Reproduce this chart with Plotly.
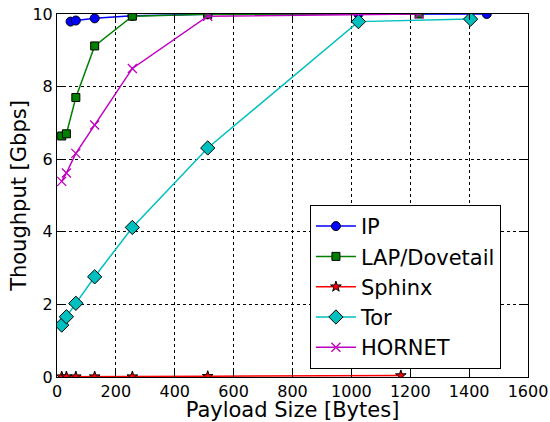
import plotly.graph_objects as go

# Data
ip_x = [46, 64, 128, 256, 512, 1024, 1460]
ip_y = [9.79, 9.82, 9.88, 9.95, 9.99, 10.0, 10.0]

lap_x = [16, 32, 64, 128, 256, 512, 1230]
lap_y = [6.64, 6.70, 7.70, 9.12, 9.94, 9.99, 10.0]

sphinx_x = [16, 32, 64, 128, 256, 512, 1168]
sphinx_y = [0.01, 0.01, 0.01, 0.01, 0.01, 0.02, 0.04]

tor_x = [16, 32, 64, 128, 256, 512, 1024, 1405]
tor_y = [1.43, 1.66, 2.03, 2.76, 4.12, 6.31, 9.79, 9.86]

hornet_x = [16, 32, 64, 128, 256, 512, 1230]
hornet_y = [5.39, 5.62, 6.16, 6.94, 8.50, 9.94, 10.0]

x_ticks = [0, 200, 400, 600, 800, 1000, 1200, 1400, 1600]
y_ticks = [0, 2, 4, 6, 8, 10]

series = [
    ("IP", ip_x, ip_y, "#0000ff", "circle", 9),
    ("LAP/Dovetail", lap_x, lap_y, "#008000", "square", 8),
    ("Sphinx", sphinx_x, sphinx_y, "#ff0000", "star", 8),
    ("Tor", tor_x, tor_y, "#00bfbf", "diamond", 11),
    ("HORNET", hornet_x, hornet_y, "#bf00bf", "x-thin", 9),
]

fig = go.Figure()
for i, (name, xs, ys, col, sym, sz) in enumerate(series):
    if sym == "x-thin":
        marker = dict(symbol=sym, size=sz, color=col, line=dict(color=col, width=1.3))
    else:
        marker = dict(symbol=sym, size=sz, color=col, line=dict(color="black", width=1))
    fig.add_trace(go.Scatter(
        x=xs, y=ys, name=name, mode="lines+markers",
        line=dict(color=col, width=1.5), marker=marker,
        legendgroup=f"g{i}",
    ))

axis_common = dict(
    showline=True, linecolor="black", linewidth=1, mirror="allticks",
    ticks="inside", ticklen=6, tickcolor="black",
    showgrid=True, gridcolor="black", griddash="dot", gridwidth=1,
    zeroline=False, tickfont=dict(size=16, color="black"),
    automargin=False, ticklabeloverflow="allow",
)

fig.update_xaxes(range=[0, 1600], tickvals=x_ticks, ticktext=[str(v) for v in x_ticks],
                 title=dict(text="Payload Size [Bytes]", font=dict(size=21, color="black"), standoff=6),
                 **axis_common)
fig.update_yaxes(range=[0, 10], tickvals=y_ticks, ticktext=[str(v) for v in y_ticks],
                 title=dict(text="Thoughput [Gbps]", font=dict(size=21, color="black"), standoff=0),
                 **axis_common)

fig.update_layout(
    width=550, height=422,
    margin=dict(l=57, r=22, t=14, b=45),
    paper_bgcolor="white", plot_bgcolor="white",
    font=dict(family="DejaVu Sans", color="black"),
    legend=dict(
        x=0.537, y=0.474, xanchor="left", yanchor="top",
        bgcolor="white", bordercolor="black", borderwidth=1,
        font=dict(size=21, color="black"),
        traceorder="grouped", tracegroupgap=0,
        itemwidth=40,
    ),
)

fig.write_html(
    "out.html",
    config={"displayModeBar": False},
    post_script="document.body.style.margin='0';document.body.style.overflow='hidden';",
)
